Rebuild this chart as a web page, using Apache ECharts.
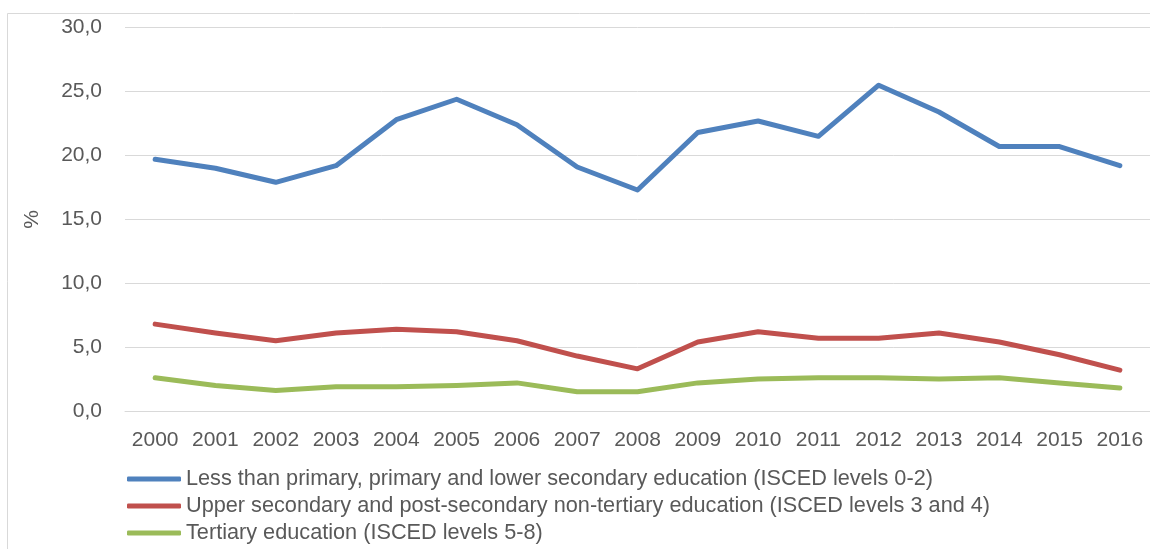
<!DOCTYPE html>
<html>
<head>
<meta charset="utf-8">
<script src="https://cdn.jsdelivr.net/npm/echarts@6/dist/echarts.min.js"></script>
<style>
  html, body { margin: 0; padding: 0; background: #ffffff; }
  #chart { width: 1150px; height: 549px; }
</style>
</head>
<body>
<div id="chart"></div>
<script>
// Years on the horizontal axis
const years = ['2000', '2001', '2002', '2003', '2004', '2005', '2006', '2007', '2008',
               '2009', '2010', '2011', '2012', '2013', '2014', '2015', '2016'];

// Series names
const nameLow = 'Less than primary, primary and lower secondary education (ISCED levels 0-2)';
const nameMid = 'Upper secondary and post-secondary non-tertiary education (ISCED levels 3 and 4)';
const nameHigh = 'Tertiary education (ISCED levels 5-8)';

// Values in %
const lowValues = [19.7, 19.0, 17.9, 19.2, 22.8, 24.4, 22.4, 19.1, 17.3,
                   21.8, 22.7, 21.5, 25.5, 23.4, 20.7, 20.7, 19.2];
const midValues = [6.8, 6.1, 5.5, 6.1, 6.4, 6.2, 5.5, 4.3, 3.3,
                   5.4, 6.2, 5.7, 5.7, 6.1, 5.4, 4.4, 3.2];
const highValues = [2.6, 2.0, 1.6, 1.9, 1.9, 2.0, 2.2, 1.5, 1.5,
                    2.2, 2.5, 2.6, 2.6, 2.5, 2.6, 2.2, 1.8];

const FONT = '"Liberation Sans", Arial, sans-serif';
const TEXT = '#595959';
const GRID = '#D9D9D9';

function lineSeries(name, data, color) {
  return {
    name: name,
    type: 'line',
    data: data,
    symbol: 'none',
    smooth: false,
    lineStyle: { color: color, width: 5, cap: 'round', join: 'round' },
    itemStyle: { color: color },
    emphasis: { disabled: true }
  };
}

const chart = echarts.init(document.getElementById('chart'), null, { renderer: 'canvas' });

chart.setOption({
  animation: false,
  backgroundColor: '#ffffff',
  textStyle: { fontFamily: FONT },
  graphic: [{
    type: 'rect',
    shape: { x: 7.5, y: 13.5, width: 1200, height: 600 },
    style: { fill: 'none', stroke: GRID, lineWidth: 1 },
    silent: true,
    z: -1
  }],
  grid: { left: 125, width: 1030, top: 27.7, height: 383.3, containLabel: false },
  xAxis: {
    type: 'category',
    data: years,
    boundaryGap: true,
    axisLine: { show: true, lineStyle: { color: GRID, width: 1 } },
    axisTick: { show: false },
    axisLabel: { color: TEXT, fontSize: 21, fontFamily: FONT, margin: 19, interval: 0 },
    splitLine: { show: false }
  },
  yAxis: {
    type: 'value',
    min: 0,
    max: 30,
    interval: 5,
    name: '%',
    nameLocation: 'middle',
    nameRotate: 90,
    nameGap: 82,
    nameTextStyle: { color: TEXT, fontSize: 21, fontFamily: FONT },
    axisLine: { show: false },
    axisTick: { show: false },
    axisLabel: {
      color: TEXT, fontSize: 21, fontFamily: FONT, margin: 23,
      formatter: v => v.toFixed(1).replace('.', ',')
    },
    splitLine: { show: true, lineStyle: { color: GRID, width: 1 } }
  },
  legend: {
    orient: 'vertical',
    left: 127,
    top: 468,
    padding: 0,
    itemWidth: 54,
    itemHeight: 5,
    itemGap: 5,
    icon: 'roundRect',
    textStyle: { color: TEXT, fontSize: 21.7, fontFamily: FONT, padding: [0, 0, 0, 0] },
    data: [nameLow, nameMid, nameHigh]
  },
  series: [
    lineSeries(nameLow, lowValues, '#4F81BD'),
    lineSeries(nameMid, midValues, '#C0504D'),
    lineSeries(nameHigh, highValues, '#9BBB59')
  ]
});
</script>
</body>
</html>
